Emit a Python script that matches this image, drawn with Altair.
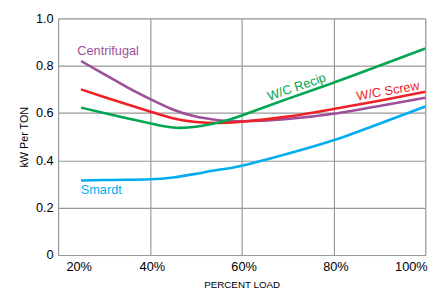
import altair as alt
import pandas as pd

load_pct = [25, 30, 35, 40, 45, 50, 55, 60, 70, 80, 90, 100]
centrifugal = [0.82, 0.765, 0.71, 0.66, 0.615, 0.585, 0.57, 0.565, 0.575, 0.597, 0.63, 0.665]
wc_screw = [0.70, 0.668, 0.637, 0.607, 0.578, 0.562, 0.558, 0.563, 0.585, 0.617, 0.652, 0.69]
wc_recip = [0.623, 0.60, 0.578, 0.557, 0.539, 0.542, 0.56, 0.59, 0.66, 0.728, 0.80, 0.873]
smardt = [0.315, 0.317, 0.318, 0.32, 0.328, 0.343, 0.36, 0.377, 0.428, 0.485, 0.555, 0.628]

series_names = ["Centrifugal", "W/C Screw", "W/C Recip", "Smardt"]
series_colors = ["#9E4F99", "#EE2226", "#00A651", "#00AEEF"]

x_ticks = [20, 40, 60, 80, 100]
y_ticks = [0, 0.2, 0.4, 0.6, 0.8, 1.0]

# label annotations (data coordinates)
label_text = ["Centrifugal", "Smardt", "W/C Recip", "W/C Screw"]
label_x = [30.9, 29.4, 72.0, 91.9]
label_y = [0.863, 0.274, 0.71, 0.693]
label_angle = [0, 0, 341, 350]

rows = []
for name, vals in zip(series_names, [centrifugal, wc_screw, wc_recip, smardt]):
    for x, y in zip(load_pct, vals):
        rows.append({"load": x, "kw": y, "series": name})
df = pd.DataFrame(rows)

FONT = "Liberation Sans"

x_enc = alt.X("load:Q", scale=alt.Scale(domain=[20, 100], nice=False),
              axis=alt.Axis(values=x_ticks, labelExpr="datum.value + '%'",
                            labelOffset={"condition": {"test": "datum.value == 20", "value": 8}, "value": 2},
                            title="PERCENT LOAD", ticks=False, labelPadding=6,
                            labelFontSize=13, titleFontSize=10, titleFontWeight="normal",
                            titlePadding=6, labelColor="#000", titleColor="#000",
                            gridColor="#999", domainColor="#999", gridWidth=1.2))
y_enc = alt.Y("kw:Q", scale=alt.Scale(domain=[0, 1], nice=False),
              axis=alt.Axis(values=y_ticks,
                            labelExpr="datum.value == 0 ? '0' : format(datum.value, '.1f')",
                            title="kW Per TON", ticks=False, labelPadding=5,
                            labelFontSize=13, titleFontSize=11, titleFontWeight="normal",
                            titlePadding=6, labelColor="#000", titleColor="#000",
                            gridColor="#999", domainColor="#999", gridWidth=1.2))

color_scale = alt.Scale(domain=series_names, range=series_colors)

lines = alt.Chart(df).mark_line(strokeWidth=2.6, interpolate="natural").encode(
    x=x_enc, y=y_enc,
    color=alt.Color("series:N", scale=color_scale, legend=None),
    detail="series:N",
)

texts = []
for t, lx, ly, ang in zip(label_text, label_x, label_y, label_angle):
    ldf = pd.DataFrame({"load": [lx], "kw": [ly], "series": [t]})
    texts.append(
        alt.Chart(ldf).mark_text(font=FONT, fontSize=13, angle=ang,
                                 align="center", baseline="middle").encode(
            x="load:Q", y="kw:Q",
            color=alt.Color("series:N", scale=color_scale, legend=None),
            text="series:N",
        )
    )

chart = alt.layer(lines, *texts).properties(
    width=374, height=241,
    padding={"left": 51, "top": 8, "right": 14, "bottom": 33},
    autosize=alt.AutoSizeParams(type="none"),
).configure_view(stroke=None).configure(font=FONT, background="white")

chart.save("out.html", embed_options={"renderer": "svg", "actions": False})
